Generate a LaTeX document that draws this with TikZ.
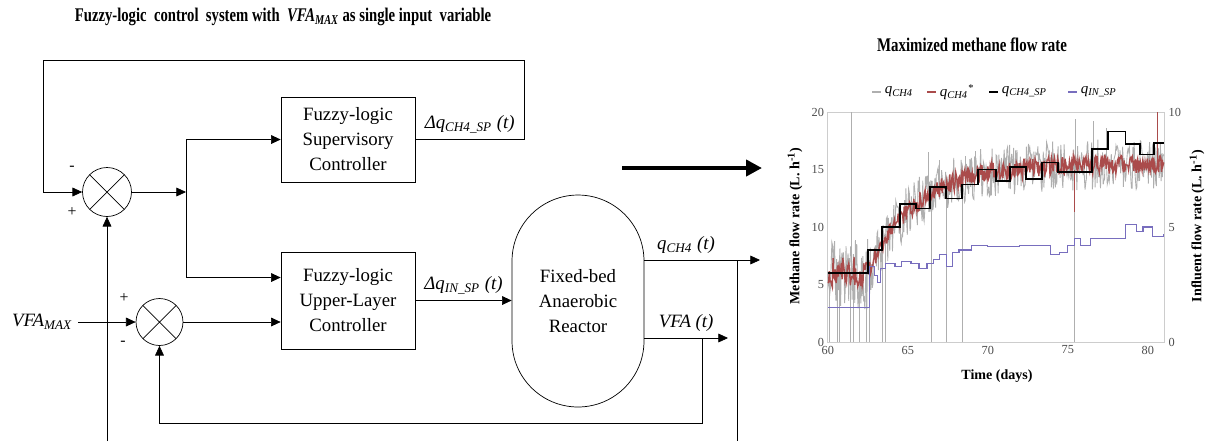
\documentclass[tikz,border=0pt]{standalone}
\usepackage{graphicx}
\usepackage{fontspec}
\setmainfont{Liberation Serif}
\usepackage{tikz}
\usetikzlibrary{arrows.meta,calc,positioning}
\definecolor{qch}{RGB}{175,175,175}
\definecolor{qchs}{RGB}{170,75,75}
\definecolor{qin}{RGB}{120,110,190}
\definecolor{axg}{RGB}{205,205,205}
\newcommand{\boxfont}{\fontsize{10.7}{14.2}\selectfont}
\newcommand{\ttlfont}{\fontsize{11}{13}\selectfont\bfseries}
\newcommand{\sbs}[1]{\textsubscript{\textit{#1}}}

\begin{document}
\begin{tikzpicture}[x=0.02cm,y=-0.02cm,>={Triangle[length=5.5pt,width=5pt]},
  blk/.style={draw,align=center,font=\boxfont,minimum width=2.68cm},
  sum/.style={draw,circle,minimum size=#1,inner sep=0pt,
    path picture={\draw (path picture bounding box.north west)--(path picture bounding box.south east)
      (path picture bounding box.north east)--(path picture bounding box.south west);}},
  sig/.style={font=\boxfont\itshape},
  sgn/.style={font=\fontsize{9}{10}\selectfont},
  tck/.style={font=\fontsize{7}{8}\selectfont,text=black!70,inner sep=2pt},
  axl/.style={font=\fontsize{8}{9}\selectfont\bfseries},
  lgd/.style={font=\fontsize{8.5}{9}\selectfont\itshape,inner sep=2pt}]
  \useasboundingbox (0,0) rectangle (1206,441);

  % control loop
  \node[font=\ttlfont] (ttl) at (283,17) {\scalebox{0.76}[1]{Fuzzy-logic\ \ control\ \ system with\ \ \textit{VFA}\sbs{MAX} as single input\ \ variable}};
  \node[blk,minimum height=1.7cm] (sup) at (348,139.5) {Fuzzy-logic\\Supervisory\\Controller};
  \node[blk,minimum height=1.94cm] (ulc) at (348,300.5) {Fuzzy-logic\\Upper-Layer\\Controller};
  \node[draw,rounded corners=1.32cm,minimum width=2.64cm,minimum height=4.24cm,align=center,font=\boxfont] (reac) at (578,301) {Fixed-bed\\Anaerobic\\Reactor};
  \node[sum=0.98cm] (sA) at (107,192) {};
  \node[sum=0.94cm] (sB) at (159.5,322) {};
  \node[sig] (vmax) at (42,322) {VFA\sbs{MAX}};
  \node[sgn] (mA) at (72,168) {-};
  \node[sgn] (pA) at (72,212) {+};
  \node[sgn] (pB) at (124,298) {+};
  \node[sgn] (mB) at (123,343) {-};

  \coordinate (jA) at (186,192);
  \coordinate (topR) at (524,60);
  \coordinate (topL) at (43,60);
  \coordinate (qend) at (760,260);
  \coordinate (vend) at (728,338);
  \coordinate (qtap) at (737,260);
  \coordinate (vtap) at (702,338);
  \coordinate (botA) at (107,441);
  \coordinate (botQ) at (737,441);
  \coordinate (thA) at (622,168);
  \coordinate (thB) at (762,168);

  \draw[->] (sA) -- (jA);
  \draw[->] (jA) |- (sup.west);
  \draw[->] (jA) |- ($(ulc.west)+(0,-23)$);
  \draw[->] (sB) -- (sB -| ulc.west);
  \draw[->] (ulc.east) -- node[sig,above]{Δq\sbs{IN\_SP} (t)} (ulc.east -| reac.west);
  \draw[->] (sup.east) -| node[sig,above,pos=0.25]{Δq\sbs{CH4\_SP} (t)} (topR) -- (topL) |- (sA.west);
  \draw[->] (reac.east |- qend) -- node[sig,above,pos=0.36]{q\sbs{CH4} (t)} (qend);
  \draw[->] (reac.east |- vend) -- node[sig,above]{VFA (t)} (vend);
  \draw (qtap) -- (botQ);
  \draw[->] (vtap) -- ++(0,85) -| (sB.south);
  \draw[->] (botA) -- (sA.south);
  \draw[->] (vmax) -- (sB.west);
  \draw[line width=2.4pt,-{Triangle[length=9pt,width=9pt]}] (thA) -- (thB);

  % chart
  \node[font=\ttlfont] (ctl) at (972,45) {\scalebox{0.77}[1]{Maximized methane flow rate}};
  \foreach \c/\x/\txt [count=\i] in {qch/872/{q\sbs{CH4}},qchs/927/{q\sbs{CH4}\textsuperscript{*}},black/989/{q\sbs{CH4\_SP}},qin/1068/{q\sbs{IN\_SP}}} {
    \draw[\c,line width=1pt] (\x,92) -- ++(9,0) coordinate (lg\i);
    \node[lgd,right] (lt\i) at (lg\i) {\txt};
  }
  \node[axl,rotate=90] (yla) at (795,226) {Methane flow rate (L. h\textsuperscript{-1})};
  \node[axl,rotate=90] (ylb) at (1197,226) {Influent flow rate (L. h\textsuperscript{-1})};
  \node[axl] (xla) at (997,376) {Time (days)};

  \begin{scope}[shift={(-132,342)},x=0.32cm,y=0.23cm,
    declare function={base(\s)=6+(\s>62.5)*9.5*(1-exp(-(\s-62.5)/3));}]
    \draw[axg] (60,0) rectangle (81.06,20);
    \foreach \v in {0,5,10,15,20} \node[tck,left] (yl\v) at (60,\v) {\v};
    \foreach \v in {0,5,10} \node[tck,right] (yr\v) at (81.06,{2*\v}) {\v};
    \foreach \d in {60,65,...,80} \node[tck,below] (xl\d) at (\d,0) {\d};
    \pgfmathsetseed{11}
    \draw[qch,line width=0.5pt] plot[domain=60:81,samples=500] (\x,{min(19.8,max(0.2,base(\x)+(2.2+1.2*(\x<62.6))*rand))});
    \foreach \d in {60.1,60.6,60.75,61.4,61.6,62.0,62.4,62.6,63.4,63.6,66.5,67.4,68.4,75.4}
      \draw[qch,line width=0.5pt] (\d,0) -- (\d,{base(\d)});
    \foreach \d/\h in {61.5/20,66.3/16.5,67.0/15.8,68.6/16.2,69.2/16.6,75.5/19.4,76.6/19.2,77.4/18.6}
      \draw[qch,line width=0.5pt] (\d,{base(\d)}) -- (\d,\h);
    \draw[qchs,line width=0.8pt] plot[domain=60:81,samples=450] (\x,{base(\x)+(0.8+0.6*(\x<62.6))*rand});
    \draw[qchs,line width=0.7pt] (80.6,15.5) -- (80.6,20) (75.4,15) -- (75.4,11.3);
    \begin{scope}[yscale=2]
      \draw[qin,line width=0.7pt] plot[const plot] coordinates {(60,1.5) (62.6,3.3) (62.9,2.9) (63.1,2.6) (63.3,3.2) (63.6,3.4) (64.2,3.3) (64.6,3.5) (65.2,3.4) (65.7,3.2) (66.2,3.4) (66.6,3.6) (67.0,3.8) (67.4,3.3) (67.8,3.9) (68.2,4.0) (69.0,4.2) (70,4.15) (72,4.2) (73.9,3.8) (74.5,3.9) (75,4.2) (75.4,4.5) (75.8,4.2) (76.4,4.5) (78.6,5.1) (79.3,4.8) (79.7,5.0) (80.3,4.6) (81,4.7)};
    \end{scope}
    \draw[line width=0.9pt] plot[const plot] coordinates {(60,6) (62.5,8) (63.4,10) (64.5,12) (65.5,11.6) (66.4,13.5) (67.4,12.5) (68.4,13.7) (69.4,15) (70.5,14) (71.4,15.2) (72.4,14.2) (73.4,15.6) (74.4,14.8) (76.5,16.8) (77.5,18.3) (78.6,17.2) (79.5,16.3) (80.4,17.3) (81,17.3)};
  \end{scope}
\end{tikzpicture}
\end{document}
